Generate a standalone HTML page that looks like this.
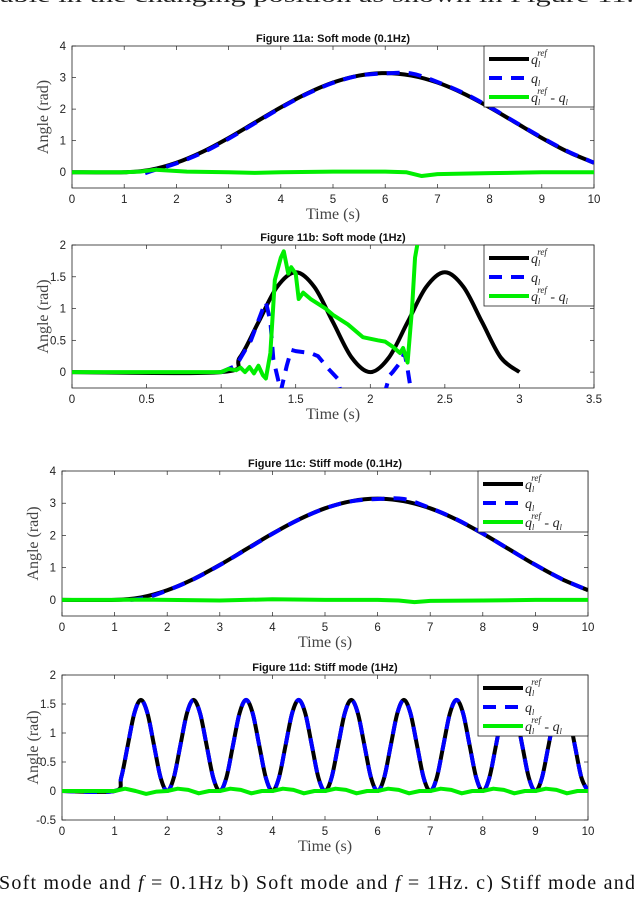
<!DOCTYPE html>
<html><head><meta charset="utf-8"><style>
body{margin:0;background:#fff;width:634px;height:892px;overflow:hidden}
svg text{font-family:"Liberation Sans",sans-serif}
.tk{font-size:11.5px;fill:#222}
.ttl{font-size:11px;font-weight:bold;fill:#111}
.al{font-family:"Liberation Serif",serif !important;font-size:16px;fill:#444}
.lg{font-family:"Liberation Serif",serif !important;font-style:italic;font-size:14px;fill:#222}
</style></head><body>
<svg id="fig" width="634" height="892" viewBox="0 0 634 892" xmlns="http://www.w3.org/2000/svg">
<text x="0" y="2" textLength="634" lengthAdjust="spacingAndGlyphs" style="font-family:'Liberation Serif',serif;font-size:20px;fill:#222">able in the changing position as shown in Figure 11.</text>
<text x="-1" y="889" textLength="636" lengthAdjust="spacing" style="font-family:'Liberation Serif',serif;font-size:20px;fill:#111">Soft mode and <tspan font-style="italic">f</tspan> = 0.1Hz b) Soft mode and <tspan font-style="italic">f</tspan> = 1Hz. c) Stiff mode and</text>
</svg>
<script>
// ---------- data ----------
const aRefT=[0,1,1.5,2,2.5,3,3.5,4,4.5,5,5.5,6,6.5,7,7.5,8,8.5,9,9.5,10];
const aRefV=[0,0,0.077,0.30,0.647,1.085,1.571,2.056,2.494,2.842,3.064,3.142,3.064,2.842,2.494,2.056,1.571,1.085,0.647,0.30];
const aQT=[1.4,1.6,2,2.5,3,3.5,4,4.5,5,5.5,6,6.5,7,7.5,8,8.5,9,9.5,10];
const aQV=[-0.03,0.08,0.28,0.62,1.06,1.55,2.04,2.48,2.83,3.06,3.13,3.13,2.86,2.51,2.07,1.58,1.1,0.66,0.3];
const aErrT=[0,1,1.3,1.6,1.8,2.2,3,3.5,4,5,6,6.4,6.7,7,8,9,10];
const aErrV=[0,0,0.02,0.08,0.06,0.02,0.0,-0.02,0.0,0.02,0.02,0.0,-0.12,-0.06,-0.03,0.0,0.0];

const bRefT=[0,1,1.125,1.25,1.375,1.5,1.625,1.75,1.875,2,2.125,2.25,2.375,2.5,2.625,2.75,2.875,3];
const bRefV=[0,0,0.23,0.785,1.34,1.571,1.34,0.785,0.23,0,0.23,0.785,1.34,1.571,1.34,0.785,0.23,0];
const bQT=[1.0,1.1,1.2,1.28,1.3,1.33,1.35,1.38,1.4,1.44,1.47,1.5,1.6,1.65,1.72,1.78,1.8,2.1,2.13,2.15,2.2,2.23,2.25,2.27];
const bQV=[0,0.1,0.5,1.0,1.1,0.8,0.2,-0.1,-0.3,0.1,0.35,0.33,0.3,0.25,0.05,-0.1,-0.3,-0.3,-0.05,0.0,0.15,0.3,0.05,-0.25];
const bErrT=[0,1.0,1.05,1.1,1.13,1.16,1.19,1.22,1.25,1.28,1.3,1.33,1.36,1.4,1.42,1.45,1.47,1.5,1.52,1.55,1.6,1.7,1.75,1.85,1.95,2.05,2.1,2.15,2.2,2.22,2.25,2.28,2.3,2.33];
const bErrV=[0,0,0.05,0.03,0.07,0.0,0.08,-0.02,0.1,-0.05,-0.1,0.3,1.45,1.8,1.9,1.55,1.65,1.55,1.15,1.25,1.15,1.0,0.9,0.75,0.55,0.5,0.48,0.4,0.3,0.38,0.15,1.0,1.8,2.2];

const cRefT=aRefT, cRefV=aRefV;
const cQT=[1.3,1.6,2,2.5,3,3.5,4,4.5,5,5.5,6,6.5,7,7.5,8,8.5,9,9.5,10];
const cQV=[0.0,0.07,0.29,0.64,1.08,1.56,2.05,2.49,2.84,3.06,3.13,3.13,2.85,2.5,2.06,1.57,1.09,0.65,0.3];
const cErrT=[0,1,1.5,2,3,4,5,6,6.4,6.7,7,8,9,10];
const cErrV=[0,0,0.01,0.0,-0.02,0.02,0.0,0.0,-0.02,-0.07,-0.03,-0.02,0.0,0.0];

const dRefT=[0,1,1.125,1.25,1.375,1.5,1.625,1.75,1.875,2,2.125,2.25,2.375,2.5,2.625,2.75,2.875,3,3.125,3.25,3.375,3.5,3.625,3.75,3.875,4,4.125,4.25,4.375,4.5,4.625,4.75,4.875,5,5.125,5.25,5.375,5.5,5.625,5.75,5.875,6,6.125,6.25,6.375,6.5,6.625,6.75,6.875,7,7.125,7.25,7.375,7.5,7.625,7.75,7.875,8,8.125,8.25,8.375,8.5,8.625,8.75,8.875,9,9.125,9.25,9.375,9.5,9.625,9.75,9.875,10];
const dRefV=[0,0,0.23,0.785,1.34,1.571,1.34,0.785,0.23,0,0.23,0.785,1.34,1.571,1.34,0.785,0.23,0,0.23,0.785,1.34,1.571,1.34,0.785,0.23,0,0.23,0.785,1.34,1.571,1.34,0.785,0.23,0,0.23,0.785,1.34,1.571,1.34,0.785,0.23,0,0.23,0.785,1.34,1.571,1.34,0.785,0.23,0,0.23,0.785,1.34,1.571,1.34,0.785,0.23,0,0.23,0.785,1.34,1.571,1.34,0.785,0.23,0,0.23,0.785,1.34,1.571,1.34,0.785,0.23,0];
const dErrT=[0,1,1.2,1.4,1.6,1.8,2,2.2,2.4,2.6,2.8,3,3.2,3.4,3.6,3.8,4,4.2,4.4,4.6,4.8,5,5.2,5.4,5.6,5.8,6,6.2,6.4,6.6,6.8,7,7.2,7.4,7.6,7.8,8,8.2,8.4,8.6,8.8,9,9.2,9.4,9.6,9.8,10];
const dErrV=[0,0,0.04,0.0,-0.05,-0.01,0.0,0.04,0.02,-0.04,0.0,0.0,0.04,0.02,-0.04,0.0,0.0,0.04,0.02,-0.04,0.0,0.0,0.04,0.02,-0.04,0.0,0.0,0.04,0.02,-0.04,0.0,0.0,0.04,0.02,-0.04,0.0,0.0,0.04,0.02,-0.04,0.0,0.0,0.04,0.02,-0.04,0.0,0.0];

const aXTicks=[0,1,2,3,4,5,6,7,8,9,10], aYTicks=[0,1,2,3,4];
const bXTicks=[0,0.5,1,1.5,2,2.5,3,3.5], bYTicks=[0,0.5,1,1.5,2];
const dYTicks=[-0.5,0,0.5,1,1.5,2];

// ---------- drawing ----------
const NS="http://www.w3.org/2000/svg";
const svg=document.getElementById('fig');
function mk(tag,attrs,parent){const e=document.createElementNS(NS,tag);for(const k in attrs)e.setAttribute(k,attrs[k]);(parent||svg).appendChild(e);return e;}
function smoothPath(pts){let d='M'+pts[0][0]+','+pts[0][1];for(let i=0;i<pts.length-1;i++){const p0=pts[i-1]||pts[i],p1=pts[i],p2=pts[i+1],p3=pts[i+2]||p2;
 d+=' C'+(p1[0]+(p2[0]-p0[0])/6)+','+(p1[1]+(p2[1]-p0[1])/6)+' '+(p2[0]-(p3[0]-p1[0])/6)+','+(p2[1]-(p3[1]-p1[1])/6)+' '+p2[0]+','+p2[1];}return d;}
function linePath(pts){return 'M'+pts.map(p=>p[0]+','+p[1]).join(' L');}

function panel(o){
 const g=mk('g',{});
 
 
 const X=v=>o.x0+(v-o.xmin)/(o.xmax-o.xmin)*(o.x1-o.x0);
 const Y=v=>o.y1-(v-o.ymin)/(o.ymax-o.ymin)*(o.y1-o.y0);
 const cid='clip-'+o.name;
 const cp=mk('clipPath',{id:cid},g);mk('rect',{x:o.x0,y:o.y0,width:o.x1-o.x0,height:o.y1-o.y0},cp);
 const t=mk('text',{x:(o.x0+o.x1)/2,y:o.y0-4,'text-anchor':'middle',class:'ttl'},g);t.textContent=o.title;
 
 
 const box=mk('rect',{x:o.x0,y:o.y0,width:o.x1-o.x0,height:o.y1-o.y0,fill:'none',stroke:'#222','stroke-width':0.8},g);
 
 
 o.xt.forEach(v=>{const x=X(v);mk('line',{x1:x,y1:o.y1,x2:x,y2:o.y1-4,stroke:'#222','stroke-width':0.7},g);mk('line',{x1:x,y1:o.y0,x2:x,y2:o.y0+4,stroke:'#222','stroke-width':0.7},g);
  const l=mk('text',{x:x,y:o.y1+15,'text-anchor':'middle',class:'tk'},g);l.textContent=String(v);
  
  });
 o.yt.forEach(v=>{const y=Y(v);mk('line',{x1:o.x0,y1:y,x2:o.x0+4,y2:y,stroke:'#222','stroke-width':0.7},g);mk('line',{x1:o.x1,y1:y,x2:o.x1-4,y2:y,stroke:'#222','stroke-width':0.7},g);
  const l=mk('text',{x:o.x0-6,y:y+4,'text-anchor':'end',class:'tk'},g);l.textContent=String(v);
  
  });
 const xl=mk('text',{x:(o.x0+o.x1)/2,y:o.y1+31,'text-anchor':'middle',class:'al'},g);xl.textContent='Time (s)';
 
 
 const cy=(o.y0+o.y1)/2;
 const yl=mk('text',{x:o.x0-24,y:cy,'text-anchor':'middle',class:'al',transform:'rotate(-90 '+(o.x0-24)+' '+cy+')'},g);yl.textContent='Angle (rad)';
 
 
 const sg=mk('g',{'clip-path':'url(#'+cid+')'},g);
 o.series.forEach(s=>{const pts=s.t.map((tv,i)=>[X(tv),Y(s.v[i])]);
  const p=mk('path',{d:s.smooth?smoothPath(pts):linePath(pts),fill:'none',stroke:s.c,'stroke-width':4,'stroke-linejoin':'round','stroke-dasharray':s.dash||'none'},sg);
  
  });
 // legend
 const lx=o.x1-110, ly=o.y0, lw=110, lh=61;
 const lg=mk('g',{},g);
 
 
 mk('rect',{x:lx,y:ly,width:lw,height:lh,fill:'#fff',stroke:'#222','stroke-width':0.8},lg);
 const labels=[['q','ref',''],['q','',''],['q','ref',' - q']];
 const cols=['#000','#0000ff','#00ee00'];
 const names=['legend-entry-qref','legend-entry-q','legend-entry-error'];
 for(let i=0;i<3;i++){const yy=ly+13+i*19;
  const e=mk('g',{},lg);
  
  
  mk('line',{x1:lx+5,y1:yy,x2:lx+45,y2:yy,stroke:cols[i],'stroke-width':4,'stroke-dasharray':i==1?'13,9':'none'},e);
  const tx=mk('text',{x:lx+47,y:yy+5,class:'lg'},e);
  tx.innerHTML='q<tspan font-size="8" dy="3">l</tspan>'+(labels[i][1]?'<tspan font-size="9" dx="-3" dy="-11">ref</tspan><tspan dy="8"> </tspan>':'')+(labels[i][2]?'<tspan font-style="normal">-</tspan> q<tspan font-size="8" dy="3">l</tspan>':'');
 }
}
function three(R,RV,Q,QV,E,EV,sm){return [{t:R,v:RV,c:'#000',n:'series-qref',smooth:true},{t:Q,v:QV,c:'#0000ff',dash:'13,9',n:'series-q',smooth:sm},{t:E,v:EV,c:'#00ee00',n:'series-error',smooth:false}];}
panel({name:'panel-11a',title:'Figure 11a: Soft mode (0.1Hz)',x0:72,x1:594,y0:46,y1:188,xmin:0,xmax:10,ymin:-0.5,ymax:4,xt:aXTicks,yt:aYTicks,series:three(aRefT,aRefV,aQT,aQV,aErrT,aErrV,true)});
panel({name:'panel-11b',title:'Figure 11b: Soft mode (1Hz)',x0:72,x1:594,y0:245,y1:388,xmin:0,xmax:3.5,ymin:-0.25,ymax:2,xt:bXTicks,yt:bYTicks,series:three(bRefT,bRefV,bQT,bQV,bErrT,bErrV,false)});
panel({name:'panel-11c',title:'Figure 11c: Stiff mode (0.1Hz)',x0:62,x1:588,y0:471,y1:616,xmin:0,xmax:10,ymin:-0.5,ymax:4,xt:aXTicks,yt:aYTicks,series:three(cRefT,cRefV,cQT,cQV,cErrT,cErrV,true)});
panel({name:'panel-11d',title:'Figure 11d: Stiff mode (1Hz)',x0:62,x1:588,y0:675,y1:820,xmin:0,xmax:10,ymin:-0.5,ymax:2,xt:aXTicks,yt:dYTicks,series:three(dRefT,dRefV,dRefT,dRefV,dErrT,dErrV,true)});
</script>
</body></html>
